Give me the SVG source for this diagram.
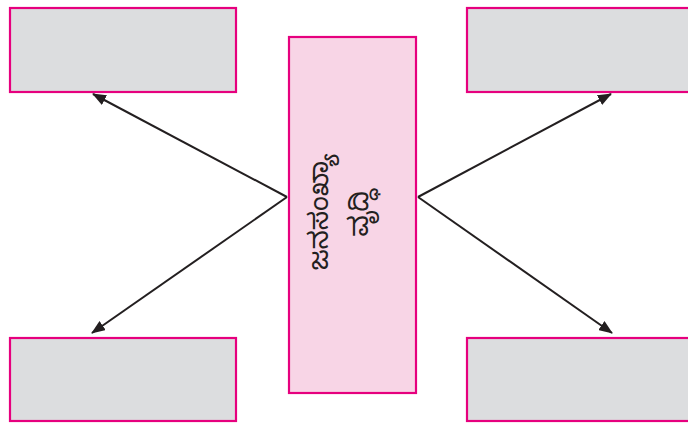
<svg xmlns="http://www.w3.org/2000/svg" width="688" height="423" viewBox="0 0 688 423">
<defs>
<style>
.box{fill:#dcdddf;stroke:#e6007e;stroke-width:2.2}
.center{fill:#f8d5e6;stroke:#e6007e;stroke-width:2.2}
.conn{stroke:#231f20;stroke-width:2;fill:none}
.lbl{font-family:"Noto Sans Kannada","Noto Serif Kannada","Noto Sans",sans-serif;font-size:27px;fill:#231f20;text-anchor:middle}
</style>
<marker id="ah" viewBox="0 0 14 11" refX="13" refY="5.5" markerWidth="14" markerHeight="11" markerUnits="userSpaceOnUse" orient="auto">
<path d="M0,0 L14,5.5 L0,11 Z" fill="#231f20"/>
</marker>
</defs>
<rect width="688" height="423" fill="#ffffff"/>
<g id="box-top-left"><rect class="box" x="10" y="8" width="226" height="84"/></g>
<g id="box-top-right"><rect class="box" x="467" y="8" width="226" height="84"/></g>
<g id="box-bottom-left"><rect class="box" x="10" y="338" width="226" height="83"/></g>
<g id="box-bottom-right"><rect class="box" x="467" y="338" width="226" height="83"/></g>
<g id="center">
<rect class="center" x="289" y="37" width="127" height="356"/>
<text class="lbl" transform="translate(328,212) rotate(-90)">ಜನಸಂಖ್ಯಾ</text>
<text class="lbl" transform="translate(368,213) rotate(-90)">ವೃದ್ಧಿ</text>
</g>
<g id="connectors">
<line class="conn" x1="287" y1="197" x2="93" y2="94" marker-end="url(#ah)"/>
<line class="conn" x1="287" y1="197" x2="92" y2="333" marker-end="url(#ah)"/>
<line class="conn" x1="418" y1="197" x2="611" y2="94" marker-end="url(#ah)"/>
<line class="conn" x1="418" y1="197" x2="612" y2="333" marker-end="url(#ah)"/>
</g>
</svg>
